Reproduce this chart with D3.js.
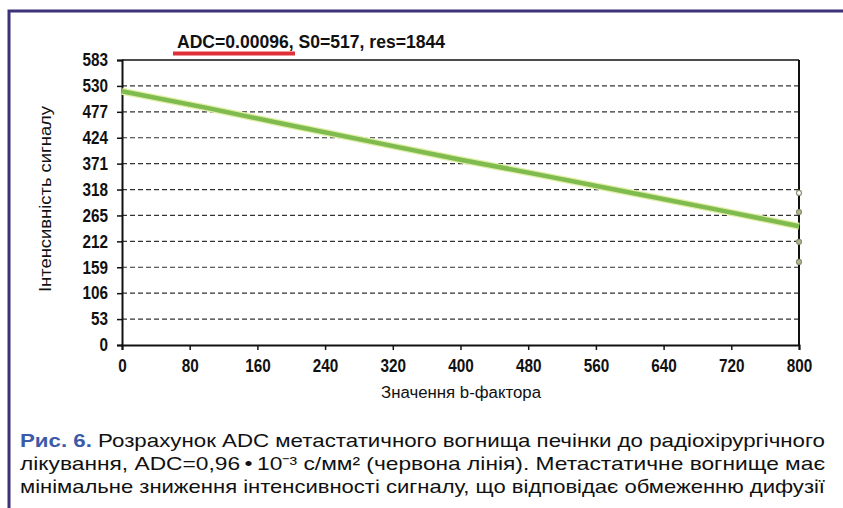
<!DOCTYPE html>
<html>
<head>
<meta charset="utf-8">
<script src="https://cdn.jsdelivr.net/npm/d3@7"></script>
<style>
  html, body { margin: 0; padding: 0; background: #fff; overflow: hidden; }
  svg { display: block; }
  .lab { font-family: "Liberation Sans", Arial, sans-serif; }
</style>
</head>
<body>
<svg></svg>
<script>
let bValues = [0, 100, 200, 300, 400, 500, 600, 700, 800];
let fitValues = [519, 485, 449, 414, 379, 346, 312, 278, 243];
let pointB = [800, 800, 800, 800];
let pointValues = [311, 272, 211, 170];
let yTicks = [0, 53, 106, 159, 212, 265, 318, 371, 424, 477, 530, 583];
let xTicks = [0, 80, 160, 240, 320, 400, 480, 560, 640, 720, 800];

let width = 843;
let height = 508;
let padLeft = 122, padRight = 799, padTop = 60, padBottom = 345;

let svg = d3.select("svg").attr("width", width).attr("height", height);

// frame (top and left only)
svg.append("rect").attr("x", 0).attr("y", 0).attr("width", width).attr("height", height).attr("fill", "#fff");
svg.append("path")
    .attr("d", "M" + width + ",11 H9 V" + height)
    .attr("fill", "none").attr("stroke", "#3d3278").attr("stroke-width", 3);

let x = d3.scaleLinear().domain([0, 800]).range([padLeft, padRight]);
let y = d3.scaleLinear().domain([0, 583]).range([padBottom, padTop]);

// grid
svg.append("g").selectAll("line")
    .data(yTicks.filter(d => d > 0 && d < 583))
    .enter().append("line")
    .attr("x1", padLeft).attr("x2", padRight)
    .attr("y1", d => y(d)).attr("y2", d => y(d))
    .attr("stroke", "#333").attr("stroke-width", 1.2)
    .attr("stroke-dasharray", "5,3");

// top and right border of plot
svg.append("line").attr("x1", padLeft).attr("x2", padRight).attr("y1", y(583)).attr("y2", y(583))
    .attr("stroke", "#111").attr("stroke-width", 1.5);
svg.append("line").attr("x1", padRight).attr("x2", padRight).attr("y1", padTop).attr("y2", padBottom)
    .attr("stroke", "#111").attr("stroke-width", 2);

let yAxis = d3.axisLeft(y).tickValues(yTicks).tickSize(5).tickPadding(9);
let xAxis = d3.axisBottom(x).tickValues(xTicks).tickSize(5).tickPadding(9);

let gy = svg.append("g").attr("transform", "translate(" + padLeft + ",0)").call(yAxis);
let gx = svg.append("g").attr("transform", "translate(0," + padBottom + ")").call(xAxis);
[gy, gx].forEach(g => {
    g.select(".domain").attr("stroke", "#111").attr("stroke-width", 2);
    g.selectAll(".tick line").attr("stroke", "#111").attr("stroke-width", 1.5);
    g.selectAll("text").attr("class", "lab").attr("fill", "#111")
        .style("font-size", "18px").style("font-weight", "bold");
});
// condensed look
gy.selectAll(".tick text").attr("x", 0).attr("transform", "translate(-14,0) scale(0.85,1)");
gx.selectAll(".tick text").attr("transform", "scale(0.85,1)");

// fit line
let line = d3.line().x((d, i) => x(bValues[i])).y(d => y(d));
svg.append("path").datum(fitValues).attr("d", line)
    .attr("fill", "none").attr("stroke", "#e0f0a8").attr("stroke-width", 7);
svg.append("path").datum(fitValues).attr("d", line)
    .attr("fill", "none").attr("stroke", "#80bb50").attr("stroke-width", 4.5);

// data points
svg.append("g").selectAll("circle")
    .data(pointValues).enter().append("circle")
    .attr("cx", (d, i) => x(pointB[i]))
    .attr("cy", d => y(d))
    .attr("r", 2.5)
    .attr("fill", (d, i) => i == 0 ? "#fff" : "#b8b890")
    .attr("stroke", "#8a8f70").attr("stroke-width", 1.2);

// title
let title = svg.append("text").attr("class", "lab").attr("x", 177).attr("y", 48)
    .attr("textLength", 268).attr("lengthAdjust", "spacingAndGlyphs")
    .style("font-size", "18px").style("font-weight", "bold").attr("fill", "#111");
title.append("tspan").text("ADC=0.00096,");
title.append("tspan").text(" S0=517, res=1844");
svg.append("line").attr("x1", 173).attr("x2", 295).attr("y1", 53.5).attr("y2", 53.5)
    .attr("stroke", "#e0303a").attr("stroke-width", 4);

// axis titles
svg.append("text").attr("class", "lab")
    .attr("transform", "translate(51,199)rotate(-90)")
    .attr("textLength", 186).attr("lengthAdjust", "spacingAndGlyphs")
    .style("text-anchor", "middle").style("font-size", "16px").attr("fill", "#111")
    .text("Інтенсивність сигналу");
svg.append("text").attr("class", "lab")
    .attr("x", 461).attr("y", 398)
    .attr("textLength", 160).attr("lengthAdjust", "spacingAndGlyphs")
    .style("text-anchor", "middle").style("font-size", "16px").attr("fill", "#111")
    .text("Значення b-фактора");

// caption
let cap = [
    ["Рис. 6.", " Розрахунок ADC метастатичного вогнища печінки до радіохірургічного"],
    ["", "лікування, ADC=0,96\u202F•\u202F10\u207B\u00B3 с/мм\u00B2 (червона лінія). Метастатичне вогнище має"],
    ["", "мінімальне зниження інтенсивності сигналу, що відповідає обмеженню дифузії"]
];
cap.forEach((c, i) => {
    let t = svg.append("text")
        .attr("x", 20).attr("y", 447 + i * 23)
        .attr("textLength", 805).attr("lengthAdjust", "spacingAndGlyphs")
        .style("font-family", "'Liberation Sans', Arial, sans-serif")
        .style("font-size", "19px").attr("fill", "#111");
    if (c[0]) t.append("tspan").attr("fill", "#3b5aa8").style("font-weight", "bold").text(c[0]);
    t.append("tspan").text(c[1]);
});
</script>
</body>
</html>
